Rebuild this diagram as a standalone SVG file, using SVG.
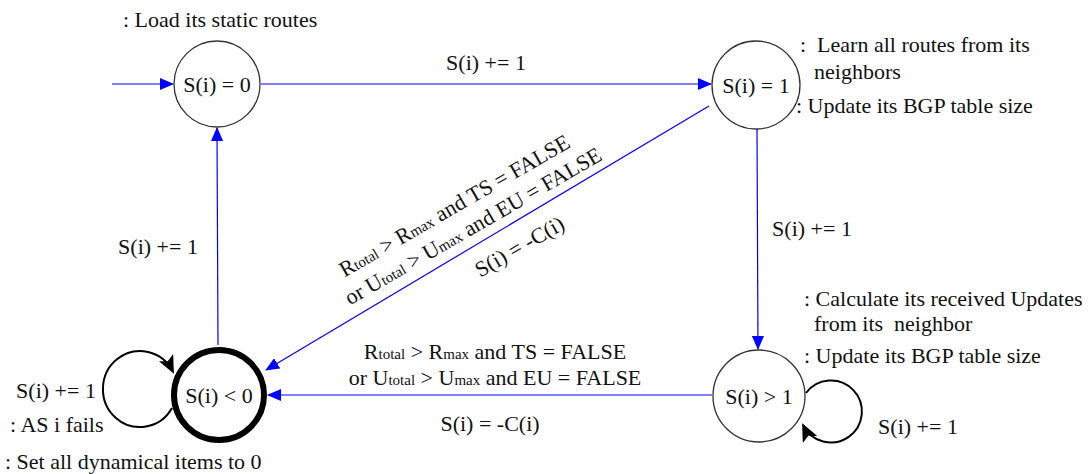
<svg xmlns="http://www.w3.org/2000/svg" width="1091" height="474" viewBox="0 0 1091 474">
<style>
text{font-family:"Liberation Serif","Times New Roman",serif;font-size:22px;fill:#111;white-space:pre}
.c{text-anchor:middle}
.sm{font-size:15px}
.node{fill:#fff;stroke:#333;stroke-width:1.3}
.thick{fill:#fff;stroke:#000;stroke-width:6}
.edge{fill:none;stroke:#0000ff;stroke-width:1.2}
.loop{fill:none;stroke:#000;stroke-width:2}
</style>
<defs>
<marker id="ab" markerWidth="14" markerHeight="12" refX="13" refY="6" orient="auto" markerUnits="userSpaceOnUse">
<path d="M0,0 L14,6 L0,12 Z" fill="#0000ff"/>
</marker>
<marker id="ak" markerWidth="18" markerHeight="16" refX="16" refY="8" orient="auto" markerUnits="userSpaceOnUse">
<path d="M0,0 L18,8 L0,16 L4,8 Z" fill="#000"/>
</marker>
</defs>
<g id="connectors">
<line class="edge" x1="112" y1="84" x2="173" y2="84" marker-end="url(#ab)"/>
<line class="edge" x1="261" y1="84" x2="711" y2="84" marker-end="url(#ab)"/>
<line class="edge" x1="757" y1="129" x2="758" y2="349" marker-end="url(#ab)"/>
<line class="edge" x1="709" y1="106" x2="266" y2="370" marker-end="url(#ab)"/>
<line class="edge" x1="712" y1="395" x2="268" y2="395" marker-end="url(#ab)"/>
<line class="edge" x1="218" y1="345" x2="217" y2="128" marker-end="url(#ab)"/>
<path class="loop" d="M172,408 A37,38 0 1,1 173,372" marker-end="url(#ak)"/>
<path class="loop" d="M806,393 A31,31 0 1,1 803,425" marker-end="url(#ak)"/>
<text x="486" y="70" class="c">S(i) += 1</text>
<text x="812" y="236" class="c">S(i) += 1</text>
<text x="158" y="254" class="c">S(i) += 1</text>
<text x="56" y="398" class="c">S(i) += 1</text>
<text x="918" y="434" class="c">S(i) += 1</text>
<text x="495" y="359" class="c">R<tspan class="sm">total</tspan> &gt; R<tspan class="sm">max</tspan> and TS = FALSE</text>
<text x="495" y="385" class="c">or U<tspan class="sm">total</tspan> &gt; U<tspan class="sm">max</tspan> and EU = FALSE</text>
<text x="490" y="431" class="c">S(i) = -C(i)</text>
<g transform="translate(458,212) rotate(-30)">
<text x="0" y="0" class="c">R<tspan class="sm">total</tspan> &gt; R<tspan class="sm">max</tspan> and TS = FALSE</text>
<text x="6" y="27" class="c">or U<tspan class="sm">total</tspan> &gt; U<tspan class="sm">max</tspan> and EU = FALSE</text>
<text x="36" y="68" class="c">S(i) = -C(i)</text>
</g>
</g>
<g id="n0">
<circle class="node" cx="217" cy="84" r="43"/>
<text x="217" y="92" class="c">S(i) = 0</text>
</g>
<g id="n1">
<circle class="node" cx="756" cy="85" r="44"/>
<text x="756" y="93" class="c">S(i) = 1</text>
</g>
<g id="n2">
<circle class="node" cx="759" cy="396" r="46"/>
<text x="759" y="404" class="c">S(i) &gt; 1</text>
</g>
<g id="n3">
<circle class="thick" cx="219" cy="395" r="45"/>
<text x="219" y="403" class="c">S(i) &lt; 0</text>
</g>
<g id="notes">
<text x="123" y="27">: Load its static routes</text>
<text x="800" y="52">:  Learn all routes from its</text>
<text x="814" y="79">neighbors</text>
<text x="796" y="113">: Update its BGP table size</text>
<text x="804" y="306">: Calculate its received Updates</text>
<text x="814" y="331">from its  neighbor</text>
<text x="804" y="363">: Update its BGP table size</text>
<text x="10" y="432">: AS i fails</text>
<text x="5" y="469">: Set all dynamical items to 0</text>
</g>
</svg>
